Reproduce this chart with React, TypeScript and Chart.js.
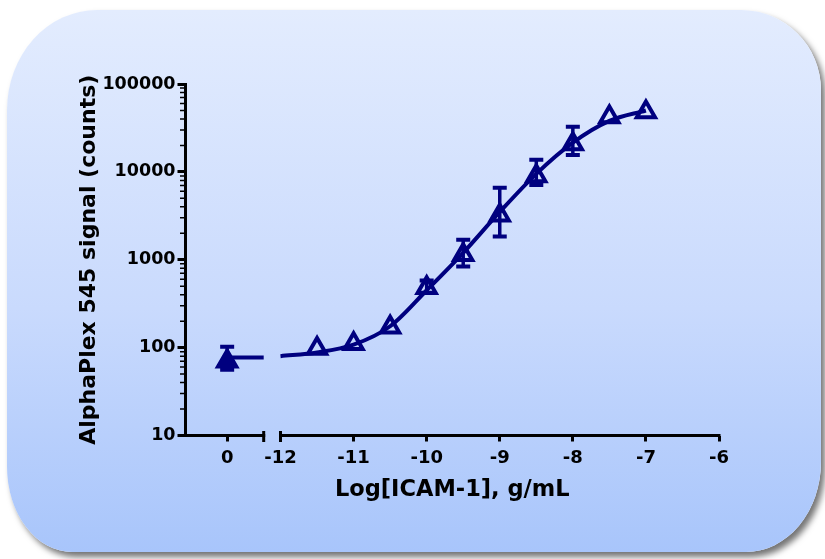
import React, { useEffect, useRef } from 'react';
import { Chart, registerables } from 'chart.js';

Chart.register(...registerables);

// ---- data ----
// 0 = no ICAM-1 control, drawn on the left (broken) segment of the x axis
const doses = [0, -11.5, -11, -10.5, -10, -9.5, -9, -8.5, -8, -7.5, -7];
const signalMean = [70, 98, 111, 170, 480, 1140, 3200, 9000, 20800, 42200, 48000];
const errLow = [56, null, null, null, 420, 840, 1840, 7110, 15600, null, null];
const errHigh = [102, null, null, null, 580, 1690, 6580, 13700, 32700, null, null];

const fitX = [-12, -11.5, -11, -10.5, -10, -9.5, -9, -8.5, -8, -7.5, -7];
const fitY = [80, 88, 108, 175, 450, 1200, 3500, 9500, 21500, 38000, 50000];
const controlFitY = [77, 77];

const xTickValues = [0, -12, -11, -10, -9, -8, -7, -6];
const xTickLabels = ['0', '-12', '-11', '-10', '-9', '-8', '-7', '-6'];
const yTickValues = [10, 100, 1000, 10000, 100000];

// ---- layout of the broken x axis (axis units) ----
const X_MIN = -13.3;
const X_MAX = -6;
const ZERO_POS = -12.73;
const BREAK_END = -12.23;
const BREAK_START = -12;

const toAxis = (d: number) => (d === 0 ? ZERO_POS : d);

const NAVY = '#00007f';
const FONT = 'DejaVu Sans';

const errorBarPlugin = {
  id: 'errorBars',
  afterDatasetsDraw(chart: any) {
    const { ctx } = chart;
    const xs = chart.scales.x;
    const ys = chart.scales.y;
    ctx.save();
    ctx.strokeStyle = NAVY;
    doses.forEach((d, i) => {
      const lo = errLow[i];
      const hi = errHigh[i];
      if (lo == null || hi == null) return;
      const x = xs.getPixelForValue(toAxis(d));
      const yl = ys.getPixelForValue(lo);
      const yh = ys.getPixelForValue(hi);
      ctx.lineWidth = 3.5;
      ctx.beginPath();
      ctx.moveTo(x, yl);
      ctx.lineTo(x, yh);
      ctx.stroke();
      ctx.lineWidth = 4;
      ctx.beginPath();
      ctx.moveTo(x - 7, yl);
      ctx.lineTo(x + 7, yl);
      ctx.moveTo(x - 7, yh);
      ctx.lineTo(x + 7, yh);
      ctx.stroke();
    });
    ctx.restore();
  },
};

const axisPlugin = {
  id: 'brokenAxis',
  afterDraw(chart: any) {
    const { ctx, chartArea } = chart;
    const xs = chart.scales.x;
    const ys = chart.scales.y;
    const y = chartArea.bottom;
    ctx.save();
    ctx.strokeStyle = '#000';
    ctx.lineWidth = 3;
    ctx.lineCap = 'butt';
    const xBreakEnd = xs.getPixelForValue(BREAK_END);
    const xBreakStart = xs.getPixelForValue(BREAK_START);
    const xEnd = xs.getPixelForValue(X_MAX);
    ctx.beginPath();
    ctx.moveTo(chartArea.left - 1.5, y);
    ctx.lineTo(xBreakEnd + 1.5, y);
    ctx.moveTo(xBreakStart - 1.5, y);
    ctx.lineTo(xEnd + 1.5, y);
    ctx.stroke();
    ctx.beginPath();
    ctx.moveTo(xBreakEnd, y - 4.5);
    ctx.lineTo(xBreakEnd, y + 6.5);
    ctx.moveTo(xBreakStart, y - 4.5);
    ctx.lineTo(xBreakStart, y + 6.5);
    ctx.stroke();
    // minor ticks of the log axis
    ctx.lineWidth = 1.5;
    ctx.beginPath();
    for (let i = 0; i < yTickValues.length - 1; i++) {
      for (let k = 2; k <= 9; k++) {
        const py = ys.getPixelForValue(yTickValues[i] * k);
        ctx.moveTo(chartArea.left - 5.5, py);
        ctx.lineTo(chartArea.left, py);
      }
    }
    ctx.stroke();
    ctx.restore();
  },
};

export default function App() {
  const ref = useRef<HTMLCanvasElement>(null);

  useEffect(() => {
    document.body.style.margin = '0';
    const canvas = ref.current;
    if (!canvas) return;
    const chart = new Chart(canvas, {
      type: 'line',
      data: {
        datasets: [
          {
            label: 'fit',
            data: fitX.map((x, i) => ({ x, y: fitY[i] })),
            borderColor: NAVY,
            borderWidth: 4,
            pointRadius: 0,
            cubicInterpolationMode: 'monotone',
            fill: false,
            order: 2,
          },
          {
            label: 'fit control',
            data: [ZERO_POS, BREAK_END].map((x, i) => ({ x, y: controlFitY[i] })),
            borderColor: NAVY,
            borderWidth: 4,
            pointRadius: 0,
            fill: false,
            order: 2,
          },
          {
            label: 'AlphaPlex 545',
            data: doses.map((d, i) => ({ x: toAxis(d), y: signalMean[i] })),
            showLine: false,
            pointStyle: 'triangle',
            pointRadius: 10.5,
            pointBorderWidth: 4,
            pointBorderColor: NAVY,
            pointBackgroundColor: (c: any) => (c.dataIndex === 0 ? NAVY : 'rgba(0,0,0,0)'),
            order: 1,
          },
        ],
      } as any,
      options: {
        responsive: false,
        animation: false,
        events: [],
        layout: { padding: { left: 0, top: 84, right: 106, bottom: 0 } },
        plugins: {
          legend: { display: false },
          tooltip: { enabled: false },
        },
        scales: {
          x: {
            type: 'linear',
            min: X_MIN,
            max: X_MAX,
            afterBuildTicks: (s: any) => {
              s.ticks = xTickValues.map((v) => ({ value: toAxis(v) }));
            },
            afterFit: (s: any) => {
              s.height = 123.5;
            },
            ticks: {
              autoSkip: false,
              maxRotation: 0,
              padding: 6,
              color: '#000',
              font: { family: FONT, size: 18, weight: 'bold' },
              callback: (_v: any, i: number) => xTickLabels[i],
            },
            grid: {
              drawOnChartArea: false,
              drawTicks: true,
              tickLength: 6,
              tickWidth: 3,
              tickColor: '#000',
            },
            border: { display: false },
            title: {
              display: true,
              text: 'Log[ICAM-1], g/mL',
              color: '#000',
              font: { family: FONT, size: 22.5, weight: 'bold' },
              padding: { top: 0, bottom: 55 },
            },
          },
          y: {
            type: 'logarithmic',
            min: 10,
            max: 100000,
            afterBuildTicks: (s: any) => {
              s.ticks = yTickValues.map((v) => ({ value: v }));
            },
            afterFit: (s: any) => {
              s.width = 185.5;
            },
            ticks: {
              autoSkip: false,
              padding: 2,
              color: '#000',
              font: { family: FONT, size: 17.5, weight: 'bold' },
              callback: (v: any) => String(v),
            },
            grid: {
              drawOnChartArea: false,
              drawTicks: true,
              tickLength: 8,
              tickWidth: 3,
              tickColor: '#000',
            },
            border: { display: true, color: '#000', width: 3 },
            title: {
              display: true,
              text: 'AlphaPlex 545 signal (counts)',
              color: '#000',
              font: { family: FONT, size: 22, weight: 'bold' },
              padding: { top: 76, bottom: 0 },
            },
          },
        },
      } as any,
      plugins: [errorBarPlugin, axisPlugin],
    });
    return () => chart.destroy();
  }, []);

  return (
    <div style={{ position: 'relative', width: 825, height: 559, overflow: 'hidden', background: '#fff' }}>
      <div
        style={{
          position: 'absolute',
          left: 7,
          top: 10,
          width: 814,
          height: 542,
          borderRadius: '90px 80px 75px 65px / 100px 80px 90px 85px',
          background: 'linear-gradient(to bottom, #e3ecfe 0%, #c9dafd 55%, #a8c5fb 100%)',
          boxShadow: '4px 5px 6px rgba(0,0,0,0.55)',
        }}
      />
      <canvas
        ref={ref}
        width={825}
        height={559}
        style={{ position: 'absolute', left: 0, top: 0, width: 825, height: 559 }}
      />
    </div>
  );
}
